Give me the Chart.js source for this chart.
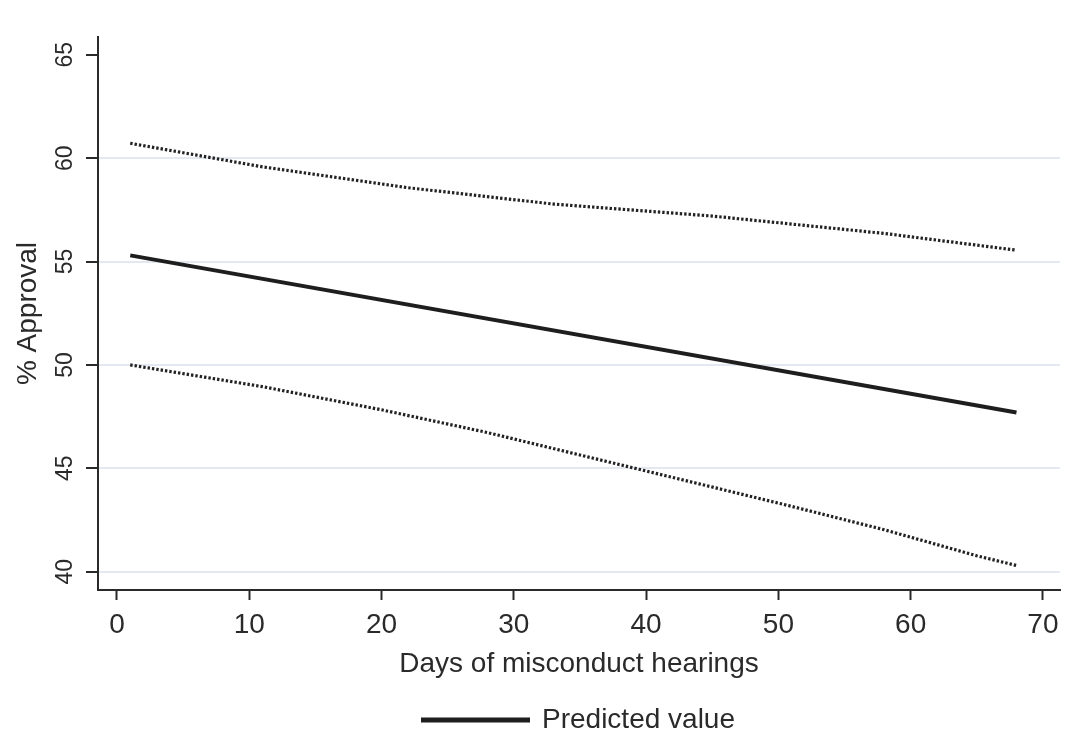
<!DOCTYPE html>
<html>
<head>
<meta charset="utf-8">
<script src="https://cdn.jsdelivr.net/npm/chart.js@4.4.1/dist/chart.umd.min.js"></script>
<style>
  html, body { margin: 0; padding: 0; background: #fff; }
  #wrap { width: 1070px; height: 738px; }
</style>
</head>
<body>
<div id="wrap"><canvas id="chart" width="1070" height="738"></canvas></div>
<script>
// --- data ---
const predX = [1, 68];
const predY = [55.3, 47.7];

const upperX = [1, 11, 22, 33, 45, 58, 68];
const upperY = [60.72, 59.58, 58.57, 57.78, 57.2, 56.36, 55.55];

const lowerX = [1, 11, 20, 28, 36, 44, 51, 58, 65, 68];
const lowerY = [50.0, 48.95, 47.83, 46.73, 45.49, 44.25, 43.16, 42.03, 40.77, 40.3];

const xTicks = [0, 10, 20, 30, 40, 50, 60, 70];
const yTicks = [40, 45, 50, 55, 60, 65];

const FONT = "'Liberation Sans', Arial, Helvetica, sans-serif";
const INK = '#2a2a2a';
const GRID = '#e4e8f1';

const toPoints = (xs, ys) => xs.map((x, i) => ({ x: x, y: ys[i] }));

// legend centred under the plot area, not the whole canvas, and nudged down a bit
const legendOnPlot = {
    id: 'legendOnPlot',
    afterLayout(chart) {
        const lg = chart.legend;
        if (!lg) return;
        lg.left = chart.chartArea.left;
        lg.right = chart.chartArea.right;
        lg.top += 6;
        lg.bottom += 6;
    }
};

new Chart(document.getElementById('chart'), {
    type: 'line',
    data: {
        datasets: [
            {
                label: 'Predicted value',
                data: toPoints(predX, predY),
                borderColor: '#1e1e1e',
                backgroundColor: '#1e1e1e',
                borderWidth: 4,
                pointRadius: 0,
                tension: 0
            },
            {
                label: 'upper',
                data: toPoints(upperX, upperY),
                borderColor: '#222222',
                borderWidth: 3.2,
                borderDash: [2.4, 2],
                pointRadius: 0,
                tension: 0
            },
            {
                label: 'lower',
                data: toPoints(lowerX, lowerY),
                borderColor: '#222222',
                borderWidth: 3.2,
                borderDash: [2.4, 2],
                pointRadius: 0,
                tension: 0
            }
        ]
    },
    options: {
        responsive: false,
        animation: false,
        layout: { padding: { left: 0, right: 10, top: 37, bottom: 0 } },
        plugins: {
            tooltip: { enabled: false },
            legend: {
                position: 'bottom',
                labels: {
                    filter: item => item.datasetIndex === 0,
                    boxWidth: 105,
                    boxHeight: 1,
                    padding: 4,
                    color: INK,
                    font: { family: FONT, size: 28 }
                }
            }
        },
        scales: {
            x: {
                type: 'linear',
                min: -1.436,
                max: 71.29,
                afterBuildTicks: s => { s.ticks = xTicks.map(v => ({ value: v })); },
                afterFit: s => { s.height = 106; },
                border: { color: INK, width: 2 },
                grid: { drawOnChartArea: false, drawTicks: true, tickLength: 10, tickColor: INK, tickWidth: 2 },
                ticks: { color: INK, padding: 8, maxRotation: 0, font: { family: FONT, size: 28 } },
                title: {
                    display: true,
                    text: 'Days of misconduct hearings',
                    color: INK,
                    padding: { top: 0, bottom: 15 },
                    font: { family: FONT, size: 28 }
                }
            },
            y: {
                type: 'linear',
                min: 39.115,
                max: 65.86,
                afterBuildTicks: s => { s.ticks = yTicks.map(v => ({ value: v })); },
                afterFit: s => { s.width = 98; },
                border: { color: INK, width: 2 },
                grid: {
                    color: c => (c.tick && c.tick.value === 65) ? 'rgba(0,0,0,0)' : GRID,
                    lineWidth: 2,
                    drawTicks: true,
                    tickLength: 12,
                    tickColor: INK,
                    tickWidth: 2
                },
                ticks: {
                    color: INK,
                    padding: 8,
                    minRotation: 90,
                    maxRotation: 90,
                    crossAlign: 'center',
                    font: { family: FONT, size: 23 }
                },
                title: {
                    display: true,
                    text: '% Approval',
                    color: INK,
                    padding: { top: 11, bottom: 0 },
                    font: { family: FONT, size: 28 }
                }
            }
        }
    },
    plugins: [legendOnPlot]
});
</script>
</body>
</html>
